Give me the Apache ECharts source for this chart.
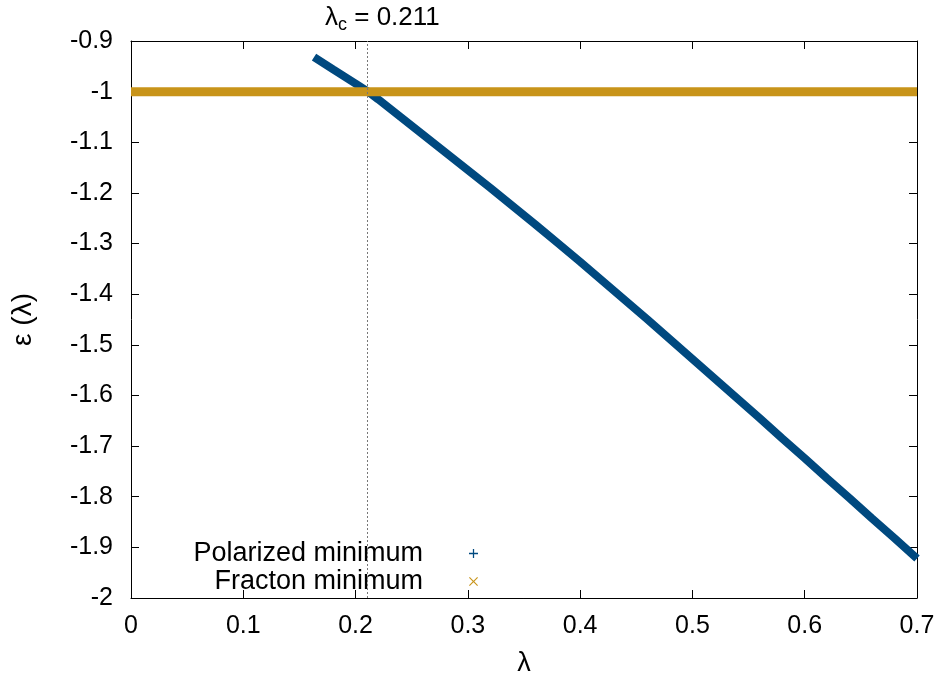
<!DOCTYPE html>
<html>
<head>
<meta charset="utf-8">
<script src="https://cdn.jsdelivr.net/npm/echarts@6/dist/echarts.min.js"></script>
<style>
  html, body { margin: 0; padding: 0; background: #fff; }
  #chart { width: 943px; height: 684px; }
</style>
</head>
<body>
<div id="chart"></div>
<script>
// values
const polarizedLambda = [0.163, 0.18, 0.20, 0.211, 0.22, 0.24, 0.26, 0.28, 0.30, 0.32, 0.34, 0.36, 0.38, 0.40,
  0.42, 0.44, 0.46, 0.48, 0.50, 0.52, 0.54, 0.56, 0.58, 0.60, 0.62, 0.64, 0.66, 0.68, 0.70];
const polarizedEnergy = [-0.932, -0.956, -0.984, -1.000, -1.015, -1.050, -1.085, -1.120, -1.155, -1.190, -1.226,
  -1.262, -1.299, -1.336, -1.374, -1.412, -1.450, -1.489, -1.528, -1.567, -1.606, -1.645, -1.685, -1.724,
  -1.764, -1.803, -1.843, -1.882, -1.922];
const fractonLambda = [0, 0.7];
const fractonEnergy = [-1, -1];
const lambdaCritical = 0.211;

const FONT = "Liberation Sans, Arial, sans-serif";
const BLUE = "#00497f";
const GOLD = "#c8941a";

const plusIcon = "path://M4.3,0H5.7V4.3H10V5.7H5.7V10H4.3V5.7H0V4.3H4.3Z";
const crossIcon = "path://M0,0.9L0.9,0L5,4.1L9.1,0L10,0.9L5.9,5L10,9.1L9.1,10L5,5.9L0.9,10L0,9.1L4.1,5Z";

const zip = (xs, ys) => xs.map((x, i) => [x, ys[i]]);

const chart = echarts.init(document.getElementById("chart"));

// gnuplot style: ticks point inwards on all four sides
const tickStyle = () => ({ show: true, inside: true, length: 8, lineStyle: { color: "#000", width: 1 } });
const lineStyle = () => ({ show: true, onZero: false, lineStyle: { color: "#000", width: 1 } });

const legendBase = {
  right: 460,
  itemWidth: 9,
  itemHeight: 9,
  align: "right",
  selectedMode: false,
  itemStyle: { borderWidth: 0 },
  textStyle: { fontFamily: FONT, fontSize: 27, color: "#000", padding: [0, 41, 0, 0] },
};

chart.setOption({
  animation: false,
  title: {
    left: 320,
    top: -3,
    text: "{l|λ}{s|c}{l| = 0.211}",
    textStyle: {
      rich: {
        l: { fontFamily: FONT, fontSize: 26, fontWeight: "normal", color: "#000" },
        s: { fontFamily: FONT, fontSize: 18, fontWeight: "normal", color: "#000", padding: [14, 0, 0, 0] },
      },
    },
  },
  legend: [
    Object.assign({}, legendBase, { top: 535, data: [{ name: "Polarized minimum", icon: plusIcon }] }),
    Object.assign({}, legendBase, { top: 563, data: [{ name: "Fracton minimum", icon: crossIcon }] }),
  ],
  grid: { left: 131, right: 26, top: 41, bottom: 86 },
  xAxis: [
    {
      type: "value", min: 0, max: 0.7, interval: 0.1,
      name: "λ", nameLocation: "middle", nameGap: 52,
      nameTextStyle: { fontFamily: FONT, fontSize: 27, color: "#000" },
      axisLine: lineStyle(), axisTick: tickStyle(), splitLine: { show: false },
      axisLabel: { fontFamily: FONT, fontSize: 25, color: "#000", margin: 16 },
    },
    {
      type: "value", position: "top", min: 0, max: 0.7, interval: 0.1,
      axisLine: lineStyle(), axisTick: tickStyle(), splitLine: { show: false },
      axisLabel: { show: false },
    },
  ],
  yAxis: [
    {
      type: "value", min: -2, max: -0.9, interval: 0.1,
      name: "ε (λ)", nameLocation: "middle", nameGap: 94, nameRotate: 90,
      nameTextStyle: { fontFamily: FONT, fontSize: 28, color: "#000" },
      axisLine: lineStyle(), axisTick: tickStyle(), splitLine: { show: false },
      axisLabel: { fontFamily: FONT, fontSize: 25, color: "#000", margin: 18 },
    },
    {
      type: "value", position: "right", min: -2, max: -0.9, interval: 0.1,
      axisLine: lineStyle(), axisTick: tickStyle(), splitLine: { show: false },
      axisLabel: { show: false },
    },
  ],
  series: [
    {
      name: "Polarized minimum",
      type: "line",
      data: zip(polarizedLambda, polarizedEnergy),
      symbol: "none",
      color: BLUE,
      lineStyle: { color: BLUE, width: 8, cap: "butt" },
      markLine: {
        silent: true,
        symbol: "none",
        label: { show: false },
        lineStyle: { color: "#777", type: [2, 2], width: 1 },
        data: [{ xAxis: lambdaCritical }],
      },
    },
    {
      name: "Fracton minimum",
      type: "line",
      data: zip(fractonLambda, fractonEnergy),
      symbol: "none",
      color: GOLD,
      lineStyle: { color: GOLD, width: 9, cap: "butt" },
    },
  ],
});
</script>
</body>
</html>
